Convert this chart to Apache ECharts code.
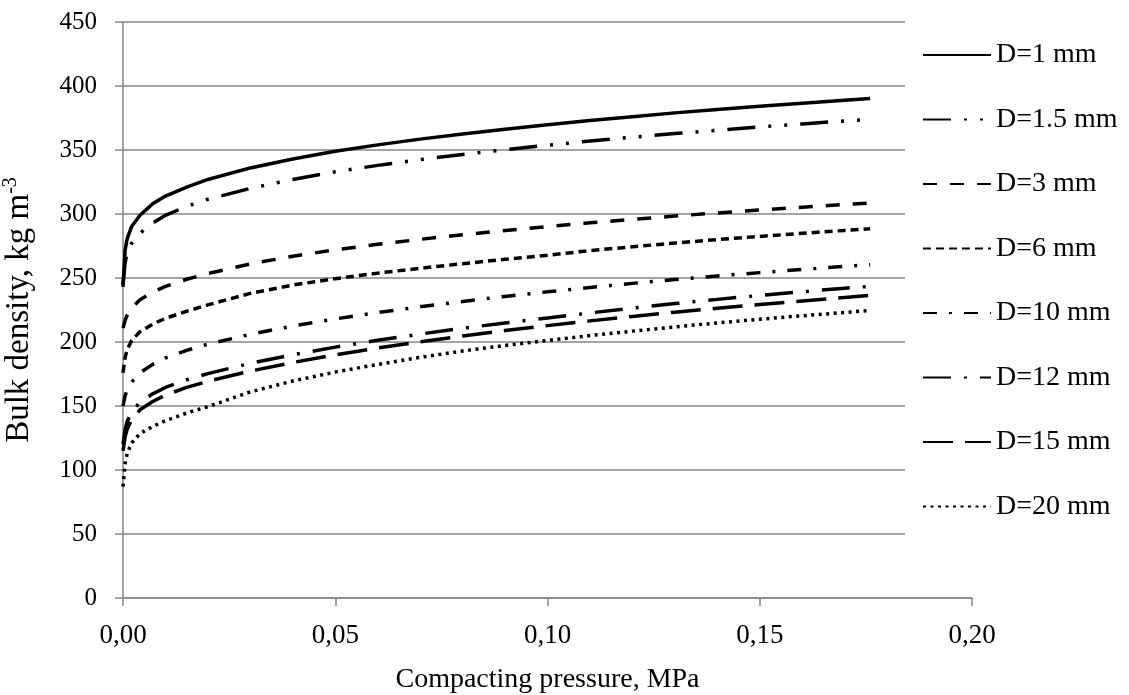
<!DOCTYPE html>
<html>
<head>
<meta charset="utf-8">
<script src="https://cdn.jsdelivr.net/npm/echarts@6/dist/echarts.min.js"></script>
<style>
  html, body { margin: 0; padding: 0; background: #fff; }
  #chart { width: 1129px; height: 695px; }
</style>
</head>
<body>
<div id="chart"></div>
<script>
// compacting pressure, MPa
const pressure = [0, 0.0005, 0.001, 0.002, 0.004, 0.007, 0.01, 0.015, 0.02, 0.03, 0.04, 0.05, 0.06,
  0.07, 0.08, 0.09, 0.10, 0.11, 0.12, 0.13, 0.14, 0.15, 0.16, 0.17, 0.176];

// bulk density, kg m-3
const d1 = [243, 272, 281, 290, 299, 308, 314, 321, 327, 336, 343, 349, 354, 358.5, 362.5, 366.2, 369.7, 373, 376, 379, 381.7, 384.2, 386.6, 388.9, 390.2];
const d15 = [245, 262, 270, 277, 285, 293, 299, 306, 311.5, 320, 327, 333, 338, 342.5, 346.5, 350.2, 353.7, 357, 360, 362.8, 365.5, 368, 370.4, 372.7, 374];
const d3 = [211, 217, 221, 226.5, 233, 239, 243.5, 249, 253.5, 261, 267, 272, 276.3, 280.2, 283.8, 287.1, 290.2, 293.1, 295.8, 298.4, 300.8, 303.1, 305.3, 307.4, 308.6];
const d6 = [176, 188, 194, 201, 208, 214, 218.5, 224, 229, 238, 244.5, 249.5, 253.8, 257.6, 261.2, 264.6, 267.8, 271.4, 274.4, 277.3, 280, 282.5, 284.9, 287.2, 288.5];
const d10 = [150, 158, 162.5, 168.5, 176, 182.5, 187.5, 193.5, 198.3, 206, 212.5, 218, 223, 227.5, 231.7, 235.6, 239.2, 242.6, 245.8, 248.8, 251.6, 254.2, 256.7, 259.1, 260.4];
const d12 = [120, 132, 138, 145, 153, 159.5, 164.5, 170.5, 175.3, 183.3, 190, 196, 201.3, 206.2, 210.7, 214.9, 218.8, 222.7, 226.5, 230, 233.3, 236.4, 239.3, 242, 243.5];
const d150 = [115, 126, 132, 139, 147, 153.5, 158.5, 164.5, 169.3, 177.3, 184, 190, 195.3, 200.2, 204.7, 208.9, 212.8, 216.5, 220, 223.3, 226.4, 229.3, 232.1, 234.8, 236.4];
const d20 = [87, 105, 113, 121, 128.5, 134, 138.5, 144.5, 149.5, 161, 169.5, 176.5, 182.5, 188, 193, 197.3, 201.2, 205, 208.5, 211.8, 214.9, 217.8, 220.5, 223.1, 224.6];

const names = ['D=1 mm', 'D=1.5 mm', 'D=3 mm', 'D=6 mm', 'D=10 mm', 'D=12 mm', 'D=15 mm', 'D=20 mm'];
const values = [d1, d15, d3, d6, d10, d12, d150, d20];
const dashes = ['solid', [28, 13, 3, 13, 3, 13], [14, 13], [8, 5], [14, 12, 3, 12], [28, 13, 3, 13], [30, 12], [3, 4.5]];

const font = "'Liberation Serif', 'Times New Roman', serif";
const gridColor = '#868686';

const chart = echarts.init(document.getElementById('chart'));

chart.setOption({
  animation: false,
  backgroundColor: '#fff',
  textStyle: { fontFamily: font, color: '#000' },
  grid: { left: 123, right: 157, top: 22, bottom: 97, containLabel: false, outerBoundsMode: 'none' },
  legend: {
    z: 10,
    orient: 'vertical',
    left: 917,
    top: 35,
    itemWidth: 68,
    itemHeight: 30,
    itemGap: 34.5,
    itemStyle: { opacity: 0 },
    textStyle: { fontFamily: font, fontSize: 28, color: '#000', lineHeight: 30 },
    data: names
  },
  graphic: [{
    type: 'rect',
    z: 5,
    shape: { x: 905, y: 0, width: 224, height: 560 },
    style: { fill: '#fff' }
  }],
  xAxis: {
    type: 'value',
    min: 0,
    max: 0.2,
    interval: 0.05,
    name: 'Compacting pressure, MPa',
    nameLocation: 'middle',
    nameGap: 68,
    nameTextStyle: { fontFamily: font, fontSize: 28, color: '#000' },
    axisLine: { show: true, lineStyle: { color: gridColor, width: 1.5 } },
    axisTick: { show: true, length: 8, lineStyle: { color: gridColor, width: 1.5 } },
    splitLine: { show: false },
    axisLabel: {
      fontFamily: font, fontSize: 27, color: '#000', margin: 24,
      formatter: v => v.toFixed(2).replace('.', ',')
    }
  },
  yAxis: {
    type: 'value',
    min: 0,
    max: 450,
    interval: 50,
    name: 'Bulk density, kg m{sup|-3}',
    nameLocation: 'middle',
    nameGap: 86,
    nameTextStyle: {
      fontFamily: font, fontSize: 33, color: '#000', lineHeight: 36,
      rich: { sup: { fontFamily: font, fontSize: 20, lineHeight: 20, verticalAlign: 'top', color: '#000' } }
    },
    axisLine: { show: true, lineStyle: { color: gridColor, width: 1.5 } },
    axisTick: { show: true, length: 8, lineStyle: { color: gridColor, width: 1.5 } },
    splitLine: { show: true, lineStyle: { color: gridColor, width: 1.5 } },
    axisLabel: { fontFamily: font, fontSize: 25, color: '#000', margin: 26 }
  },
  series: names.map((name, i) => ({
    name: name,
    type: 'line',
    symbol: 'none',
    color: '#000',
    lineStyle: { color: '#000', width: 3.5, type: dashes[i], cap: 'butt' },
    data: pressure.map((p, j) => [p, values[i][j]])
  }))
});
</script>
</body>
</html>
